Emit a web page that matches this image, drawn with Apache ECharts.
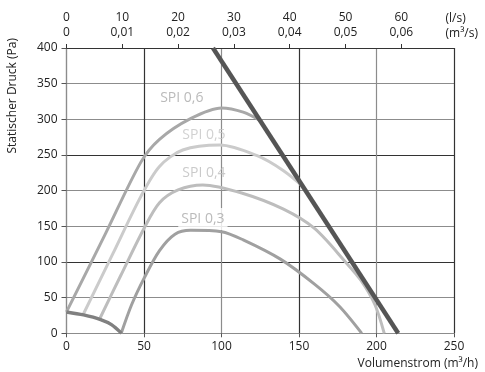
<!DOCTYPE html>
<html>
<head>
<meta charset="utf-8">
<script src="https://cdn.jsdelivr.net/npm/echarts@6/dist/echarts.min.js"></script>
<style>
html,body{margin:0;padding:0;background:#fff;}
#chart{width:485px;height:372px;}
</style>
</head>
<body>
<div id="chart"></div>
<script>
// ---- data (x: Volumenstrom m³/h, y: Statischer Druck Pa) ----
const bottomTicks = [0, 50, 100, 150, 200, 250];
const topTickValues = [0, 10, 20, 30, 40, 50, 60];            // l/s
const topTickSecond = ['0', '0,01', '0,02', '0,03', '0,04', '0,05', '0,06']; // m³/s

const spi06 = [[0,30],[25,139],[48,240],[60,272],[80,301],[100,316],[114,310],[126,297]];
const spi05 = [[10.6,25.7],[30,112],[48,192],[60,234],[75,257],[99,264],[123,249],[140,228],[153,205]];
const spi04 = [[21.3,19.7],[35,81],[50,147],[60,183],[72,201],[88,208],[114,196],[140,174],[160,147],[180,100],[190,74],[199,40],[205,0]];
const spi03 = [[35.3,0],[42,40],[50,77],[60,116],[70,139],[80,144.5],[100,142.5],[114,131],[138,104],[160,69],[176,38],[190.5,0]];
const boundary = [[0,30],[11,25.8],[22,19.3],[29,12.2],[35.5,0]];
const systemLine = [[94.5,400],[214,0]];

const spiNames = ['SPI 0,6', 'SPI 0,5', 'SPI 0,4', 'SPI 0,3'];
const spiLabelPos = [[74.4,329.8],[88.7,278.3],[88.7,224.3],[88,160.4]];

// ---- chart ----
const FONT = 'Open Sans';
const chart = echarts.init(document.getElementById('chart'), null, {renderer: 'canvas'});

function lineSeries(data, color, width, z) {
  return {
    type: 'line', data: data, xAxisIndex: 0, yAxisIndex: 0,
    showSymbol: false, symbol: 'none', smooth: 0.3,
    lineStyle: {color: color, width: width, cap: 'butt', join: 'round'},
    z: z, silent: true, animation: false
  };
}

const labelColors = ['#a9a9a9', '#c6c6c6', '#bdbdbd', '#a9a9a9'];

const option = {
  animation: false,
  backgroundColor: '#fff',
  textStyle: {fontFamily: FONT},
  grid: {left: 66.5, right: 31, top: 48, bottom: 38.7, containLabel: false},
  xAxis: [
    {
      type: 'value', position: 'bottom', min: 0, max: 250, interval: 50,
      axisLine: {show: true, lineStyle: {color: '#8c8c8c', width: 1.2}},
      axisTick: {show: true, length: 4, lineStyle: {color: '#555', width: 1}},
      axisLabel: {color: '#222', fontSize: 12, fontFamily: FONT, margin: 7,
        customValues: bottomTicks},
      splitLine: {show: true, lineStyle: {color: ['#8c8c8c', '#333'], width: 1.2}}
    },
    {
      type: 'value', position: 'top', min: 0, max: 250 / 3.6,
      axisLine: {show: true, onZero: false, lineStyle: {color: '#333', width: 1.2}},
      axisTick: {show: true, length: 4, customValues: topTickValues, lineStyle: {color: '#333', width: 1}},
      axisLabel: {
        color: '#222', fontSize: 12, fontFamily: FONT, margin: 8, lineHeight: 15,
        customValues: topTickValues,
        formatter: function (v) {
          const i = topTickValues.indexOf(Math.round(v));
          return String(Math.round(v)) + '\n' + (i >= 0 ? topTickSecond[i] : '');
        }
      },
      splitLine: {show: false}
    }
  ],
  yAxis: {
    type: 'value', min: 0, max: 400, interval: 50,
    axisLine: {show: true, lineStyle: {color: '#8c8c8c', width: 1.2}},
    axisTick: {show: true, length: 5, lineStyle: {color: '#555', width: 1}},
    axisLabel: {color: '#222', fontSize: 12, fontFamily: FONT, margin: 9},
    splitLine: {show: true, lineStyle: {color: ['#8c8c8c', '#8c8c8c', '#333'], width: 1.2}}
  },
  graphic: [
    {type: 'text', right: 7, top: 11,
      style: {text: '(l/s)\n(m³/s)', fill: '#222', font: '12px "Open Sans"', align: 'right', lineHeight: 15}},
    {type: 'text', right: 7, bottom: 2,
      style: {text: 'Volumenstrom (m³/h)', fill: '#222', font: '12px "Open Sans"'}},
    {type: 'text', left: 7, top: 38, rotation: Math.PI / 2,
      style: {text: 'Statischer Druck (Pa)', fill: '#222', font: '12px "Open Sans"'}}
  ],
  series: [
    lineSeries(spi06, '#a8a8a8', 3, 3),
    lineSeries(spi05, '#cbcbcb', 3, 3),
    lineSeries(spi04, '#bdbdbd', 3, 3),
    lineSeries(spi03, '#a0a0a0', 3, 3),
    lineSeries(boundary, '#808080', 3.5, 4),
    Object.assign(lineSeries(systemLine, '#555555', 4.5, 5), {smooth: false}),
    {
      type: 'scatter', xAxisIndex: 0, yAxisIndex: 0, symbolSize: 0, silent: true, z: 2,
      data: spiNames.map(function (n, i) {
        return {
          name: n, value: spiLabelPos[i],
          label: {
            show: true, position: 'inside', formatter: '{b}',
            color: labelColors[i], fontSize: 14, fontFamily: FONT, lineHeight: 16,
            backgroundColor: i === 3 ? '#fff' : 'transparent',
            padding: i === 3 ? [3, 3, 3, 3] : 0
          }
        };
      })
    }
  ]
};
chart.setOption(option);
</script>
</body>
</html>
